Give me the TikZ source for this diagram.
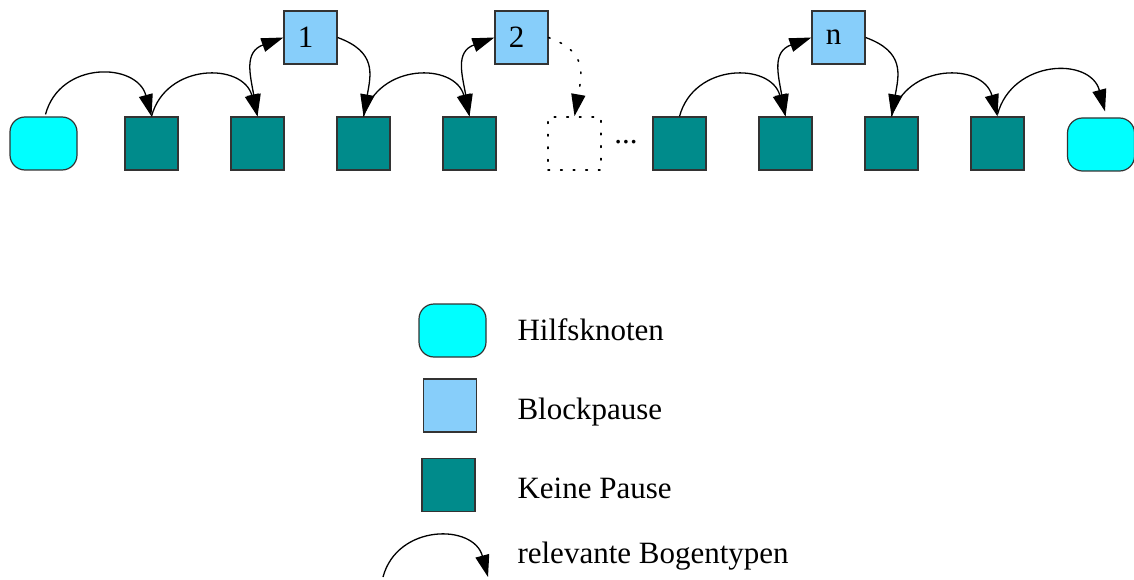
\documentclass[tikz,border=0pt]{standalone}
\usepackage{fontspec}
\setmainfont{Liberation Serif}
\usetikzlibrary{arrows.meta}
\definecolor{hilf}{HTML}{00FFFF}
\definecolor{block}{HTML}{87CEFA}
\definecolor{keine}{HTML}{008B8B}
\definecolor{rim}{HTML}{333333}
\begin{document}
\begin{tikzpicture}[x=1pt,y=1pt,
  every node/.style={font=\fontsize{31}{36}\selectfont},
  hilfbox/.style={draw=rim, line width=1.2pt, fill=hilf, rounded corners=15pt, minimum width=67pt, minimum height=53pt, inner sep=0pt},
  keinebox/.style={draw=rim, line width=1.2pt, fill=keine, minimum width=53pt, minimum height=53pt, inner sep=0pt},
  blockbox/.style={draw=rim, line width=1.2pt, fill=block, minimum width=53pt, minimum height=53pt, inner sep=0pt},
  dotbox/.style={draw=black, line width=1.6pt, dash pattern=on 1.6pt off 11pt, line cap=round, minimum width=53pt, minimum height=53pt, inner sep=0pt},
  tip/.tip={Triangle[length=22pt,width=14pt]},
  bogen/.style={line width=1.3pt, -tip},
  doppel/.style={line width=1.3pt, tip-tip},
  dotbogen/.style={line width=1.6pt, dash pattern=on 1.6pt off 11pt, line cap=round, -{Triangle[length=22pt,width=14pt,line cap=butt,sep=0pt]}},
  hop/.style={out=75,in=105,looseness=1.35},
  legtext/.style={anchor=base west}
]
\useasboundingbox (0,0) rectangle (1134,-580);
% main row
\node[hilfbox] (h1) at (43.5,-143.5) {};
\node[keinebox] (k1) at (151.5,-143.5) {};
\node[keinebox] (k2) at (257.5,-143.5) {};
\node[keinebox] (k3) at (363.5,-143.5) {};
\node[keinebox] (k4) at (469.5,-143.5) {};
\node[dotbox] (d) at (574.5,-143.5) {};
\node[anchor=base] (dots) at (626,-144) {...};
\node[keinebox] (k5) at (679.5,-143.5) {};
\node[keinebox] (k6) at (785.5,-143.5) {};
\node[keinebox] (k7) at (891.5,-143.5) {};
\node[keinebox] (k8) at (997.5,-143.5) {};
\node[hilfbox] (h2) at (1101,-144.5) {};
% block pauses
\node[blockbox] (b1) at (310.5,-37.5) {1\hspace*{10pt}};
\node[blockbox] (b2) at (521.5,-37.5) {2\hspace*{10pt}};
\node[blockbox] (bn) at (838.5,-37.5) {n\hspace*{10pt}};
% arcs
\draw[bogen] ([xshift=2pt,yshift=2pt]h1.north) to[hop] (k1.north);
\draw[bogen] (k1.north) to[hop] (k2.north);
\draw[doppel] (k2.north) to[out=100,in=200,looseness=1.3] (b1.west);
\draw[bogen] (b1.east) to[out=-20,in=80,looseness=1.3] (k3.north);
\draw[bogen] (k3.north) to[hop] (k4.north);
\draw[doppel] (k4.north) to[out=100,in=200,looseness=1.3] (b2.west);
\draw[dotbogen] (b2.east) to[out=-20,in=80,looseness=1.3] (d.north);
\draw[bogen] (k5.north) to[hop] (k6.north);
\draw[doppel] (k6.north) to[out=100,in=200,looseness=1.3] (bn.west);
\draw[bogen] (bn.east) to[out=-20,in=80,looseness=1.3] (k7.north);
\draw[bogen] (k7.north) to[hop] (k8.north);
\draw[bogen] ([yshift=2pt]k8.north) to[hop] ([xshift=4pt,yshift=6pt]h2.north);
% legend
\node[hilfbox] (lh) at (452.5,-330.5) {};
\node[legtext] (th) at (514,-340) {Hilfsknoten};
\node[blockbox] (lb) at (450,-405.5) {};
\node[legtext] (tb) at (514,-419) {Blockpause};
\node[keinebox] (lk) at (448.5,-485) {};
\node[legtext] (tk) at (514,-498) {Keine Pause};
\coordinate (la) at (383,-577);
\coordinate (lz) at (488,-577);
\draw[bogen] (la) to[hop] (lz);
\node[legtext] (tr) at (514,-563) {relevante Bogentypen};
\end{tikzpicture}
\end{document}
